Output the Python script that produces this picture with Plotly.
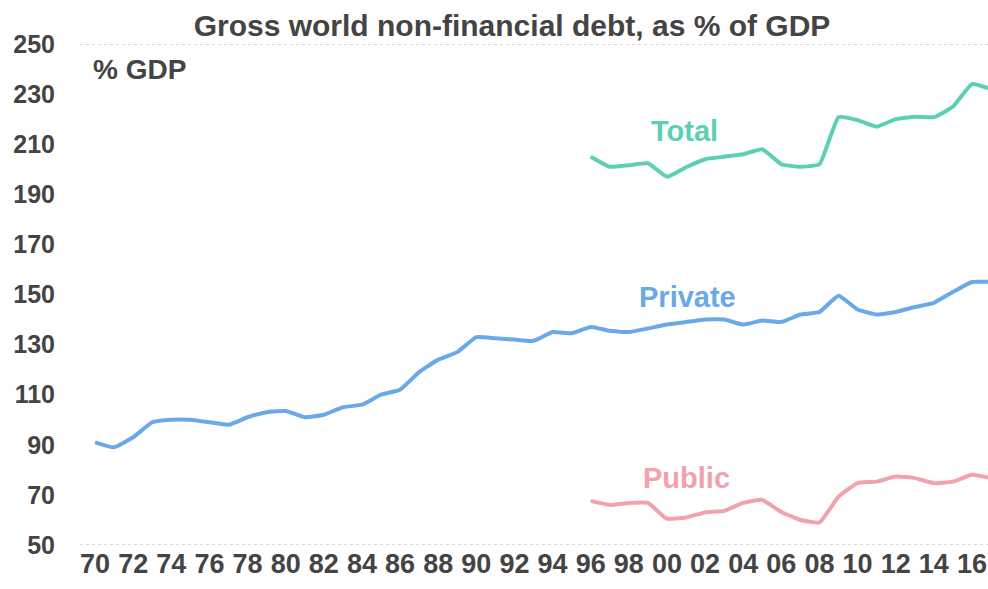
import plotly.graph_objects as go

years = list(range(1970, 2018))
private = [91, 89, 93, 99, 100, 100, 99, 98, 101, 103, 103.5, 101, 102, 105, 106, 110,
           112, 119, 124, 127, 133, 132.5, 132, 131.5, 135, 134.5, 137, 135.5, 135, 136.4,
           138, 139, 140, 140, 138, 139.6, 139, 142, 143, 149.5, 144, 142, 143, 145,
           146.7, 151, 155, 155]
years_short = list(range(1996, 2018))
total = [205, 201, 201.6, 202.4, 197, 200.8, 204, 205, 206, 208, 202, 201, 202, 220.8,
         219.6, 217, 220, 221, 220.8, 225, 234, 232]
public = [67.6, 66, 66.8, 66.8, 60.5, 61, 63, 63.6, 66.8, 68, 63.2, 60, 59, 69.3, 74.7,
          75.3, 77.3, 76.7, 74.7, 75.3, 78, 76.7]
tick_years = list(range(1970, 2017, 2))
tick_labels = [f"{y % 100:02d}" for y in tick_years]
y_ticks = list(range(50, 251, 20))

C_PRIV = "#6aa9e9"
C_TOT = "#5dcfb2"
C_PUB = "#f2a2ad"
TXT = "#444444"
FONT = "Liberation Sans, Arial, sans-serif"
NARROW = "Liberation Sans Narrow, Arial Narrow, Liberation Sans, sans-serif"

fig = go.Figure()
fig.add_trace(go.Scatter(x=years, y=private, mode="lines", line=dict(color=C_PRIV, width=4, shape="spline", smoothing=0.4), name="Private"))
fig.add_trace(go.Scatter(x=years_short, y=total, mode="lines", line=dict(color=C_TOT, width=4, shape="spline", smoothing=0.4), name="Total"))
fig.add_trace(go.Scatter(x=years_short, y=public, mode="lines", line=dict(color=C_PUB, width=4, shape="spline", smoothing=0.4), name="Public"))

for txt, x, y, c in [("Total", 2000.9, 215.2, C_TOT), ("Private", 2001.1, 149.2, C_PRIV), ("Public", 2001.0, 76.8, C_PUB)]:
    fig.add_annotation(x=x, y=y, text=f"<b>{txt}</b>", showarrow=False,
                       font=dict(family=FONT, size=29, color=c), xanchor="center", yanchor="middle")

fig.add_annotation(x=(91 - 80) / 908, y=(545 - 69) / 501, xref="paper", yref="paper", text="<b>% GDP</b>",
                   showarrow=False, font=dict(family=FONT, size=28, color=TXT), xanchor="left", yanchor="middle")

for yv in (50, 250):
    fig.add_shape(type="line", xref="paper", x0=0, x1=1, y0=yv, y1=yv,
                  line=dict(color="#c8c8c8", width=1.5, dash="dot"))

fig.update_layout(
    width=988, height=589,
    margin=dict(l=80, r=0, t=44, b=44),
    paper_bgcolor="white", plot_bgcolor="white",
    showlegend=False,
    title=dict(text="<b>Gross world non-financial debt, as % of GDP</b>", x=512 / 988, xanchor="center",
               y=1 - 25 / 589, yanchor="middle", font=dict(family=NARROW, size=30, color=TXT)),
)
fig.update_xaxes(range=[1969.21, 2016.84], tickvals=tick_years, ticktext=tick_labels,
                 showgrid=False, zeroline=False, showline=False, ticks="",
                 tickfont=dict(family=NARROW, size=27, color=TXT, weight="bold"))
fig.update_yaxes(range=[50, 250], tickvals=y_ticks, showgrid=False, zeroline=False, showline=False,
                 ticks="", ticklabelstandoff=24, tickfont=dict(family=FONT, size=25, color=TXT, weight="bold"))

fig.write_html("out.html")
